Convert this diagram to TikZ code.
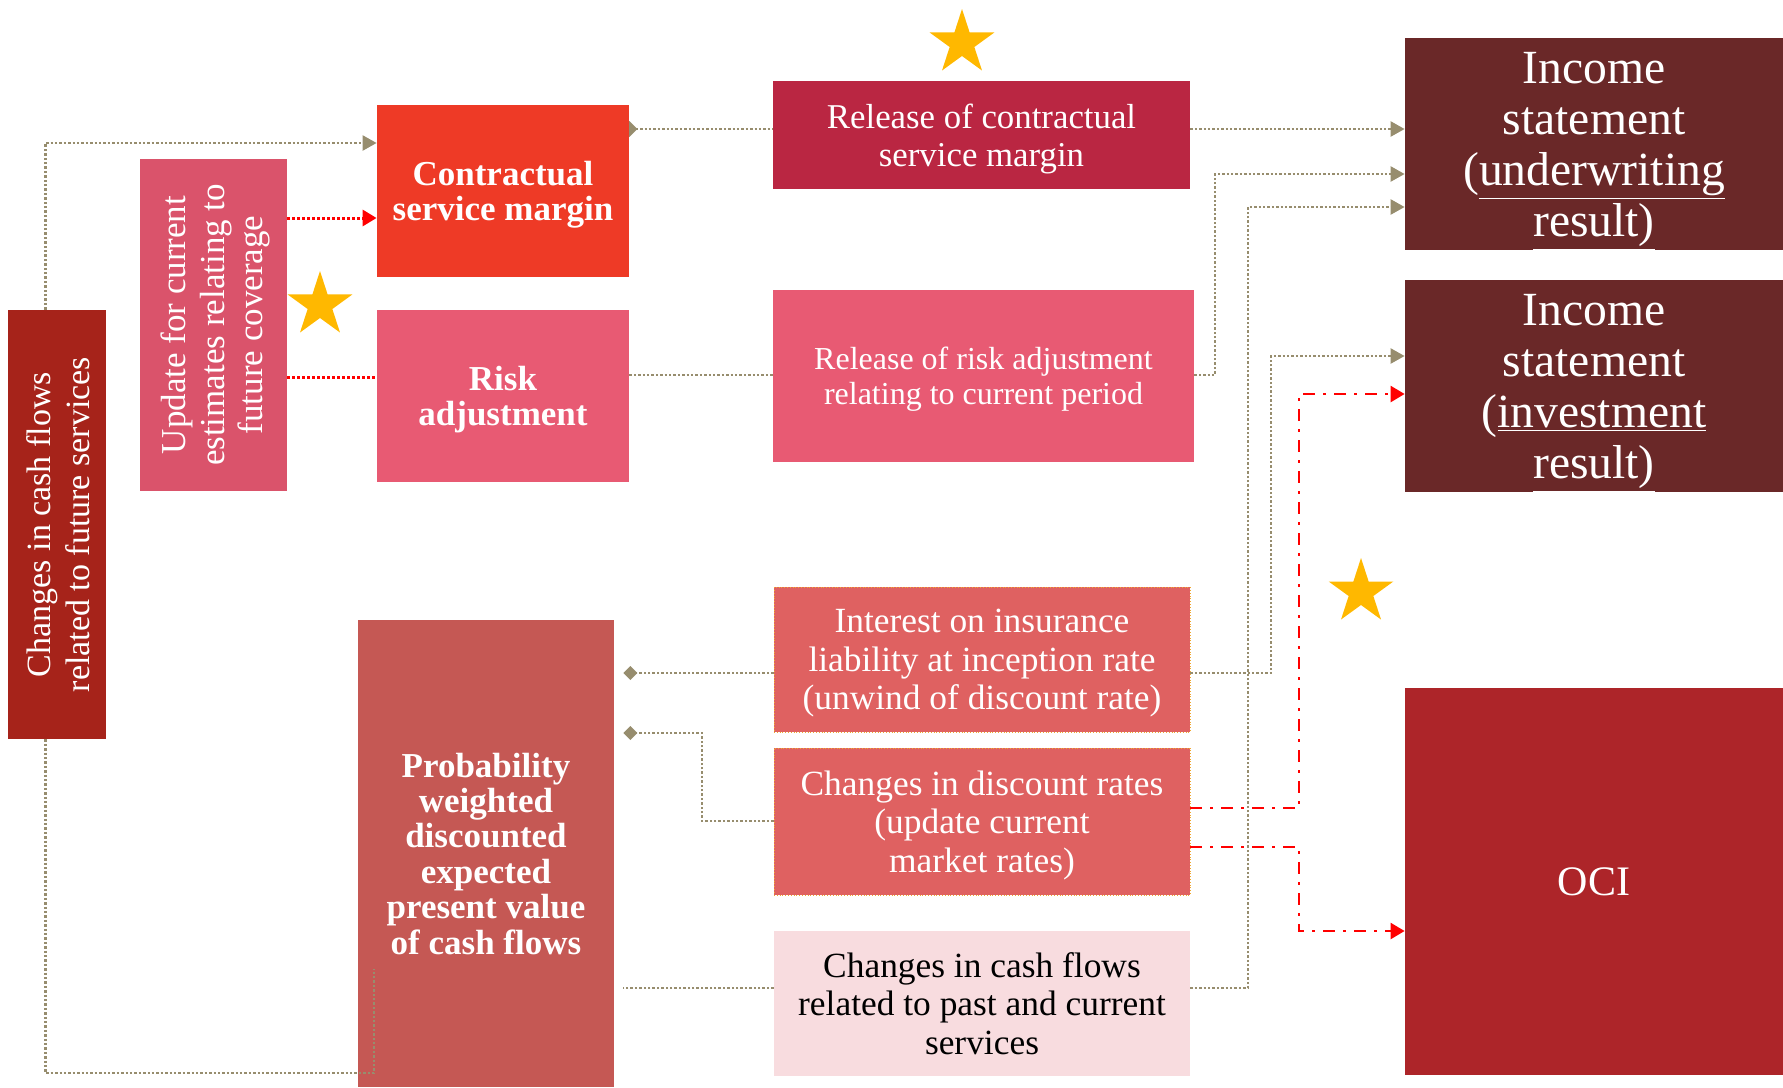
\documentclass[tikz,border=0pt]{standalone}
\usepackage{fontspec}
\setmainfont{Liberation Serif}
\usepackage{graphicx}
\usetikzlibrary{arrows.meta,shapes.geometric,backgrounds}
\definecolor{futred}{HTML}{A6231A}
\definecolor{updpink}{HTML}{DA536B}
\definecolor{csmred}{HTML}{EE3A26}
\definecolor{rapink}{HTML}{E85A73}
\definecolor{relred}{HTML}{BA2642}
\definecolor{isbrown}{HTML}{6A2828}
\definecolor{ocired}{HTML}{AD2529}
\definecolor{pvred}{HTML}{C55854}
\definecolor{intred}{HTML}{DF6161}
\definecolor{pastpink}{HTML}{F8DCDF}
\definecolor{linegray}{HTML}{978D6E}
\definecolor{stargold}{HTML}{FFB800}
\definecolor{edgeorange}{HTML}{F0A830}
\def\vtext#1{\rotatebox{90}{\begin{tabular}{@{}c@{}}#1\end{tabular}}}
\tikzset{
  box/.style={rectangle, inner sep=2pt, text=white, align=center, text depth=0pt},
  boldbox/.style={box, font=\bfseries\fontsize{17.5}{17.7}\selectfont},
  flowbox/.style={box, minimum width=208pt, font=\fontsize{17.7}{19.3}\selectfont},
  isbox/.style={box, fill=isbrown, minimum width=189pt, minimum height=106pt, font=\fontsize{23.8}{25.5}\selectfont},
  gline/.style={draw=linegray, line width=1.2pt, dash pattern=on 1.2pt off 1pt},
  rdot/.style={draw=red, line width=1.5pt, dash pattern=on 1.5pt off 1pt},
  rdash/.style={draw=red, line width=1.2pt, dash pattern=on 6pt off 4pt on 1.5pt off 4pt},
  gtip/.style={-{Triangle[length=7pt,width=7.5pt,fill=linegray]}},
  rtip/.style={-{Triangle[length=7pt,width=8pt,fill=red]}},
  dtip/.style={-{Diamond[length=7pt,width=7pt,fill=linegray]}, shorten >=4.5pt},
  goldstar/.style={star, star points=5, star point ratio=2.618, fill=stargold, minimum size=34pt, inner sep=0pt}
}

\begin{document}
\begin{tikzpicture}[x=0.5pt,y=-0.5pt]
	%%%%% START %%%%%
	\useasboundingbox (0,0) rectangle (1783,1087);
	
	\node[box, fill=futred, minimum width=49pt, minimum height=214.5pt, font=\fontsize{17}{19.3}\selectfont] (fut) at (57,524.5) {\hspace*{5pt}\vtext{Changes in cash flows\\related to future services}};
	\node[box, fill=updpink, minimum width=73.5pt, minimum height=166pt, font=\fontsize{17.5}{19.2}\selectfont] (upd) at (213.5,325) {\hspace*{3pt}\vtext{Update for current\\estimates relating to\\future coverage}};
	
	\node[boldbox, fill=csmred, minimum width=126pt, minimum height=86pt] (csm) at (503,191) {Contractual\\service margin};
	\node[boldbox, fill=rapink, minimum width=126pt, minimum height=86pt] (ra) at (503,396) {Risk\\adjustment};
	\node[boldbox, fill=pvred, minimum width=128pt, minimum height=233.5pt] (pv) at (486,853.5) {Probability\\weighted\\discounted\\expected\\present value\\of cash flows};
	
	\node[box, fill=relred, minimum width=208.5pt, minimum height=54pt, font=\fontsize{17.4}{19}\selectfont] (relcsm) at (981.5,135) {Release of contractual\\service margin};
	\node[box, fill=rapink, minimum width=210.5pt, minimum height=86pt, font=\fontsize{16}{17.6}\selectfont] (relra) at (983.5,376) {Release of risk adjustment\\relating to current period};
	\node[flowbox, fill=intred, draw=edgeorange, line width=0.4pt, densely dotted, minimum height=72.5pt] (intr) at (982,659.5) {Interest on insurance\\liability at inception rate\\(unwind of discount rate)};
	\node[flowbox, fill=intred, draw=edgeorange, line width=0.4pt, densely dotted, minimum height=73.5pt] (disc) at (982,821.5) {Changes in discount rates\\(update current\\market rates)};
	\node[flowbox, fill=pastpink, text=black, minimum height=72.5pt] (past) at (982,1003.5) {Changes in cash flows\\related to past and current\\services};
	
	\node[isbox] (isuw) at (1594,144) {Income\\statement\\(\underline{underwriting}\\\underline{result)}};
	\node[isbox] (isinv) at (1594,386) {Income\\statement\\(\underline{investment}\\\underline{result)}};
	\node[box, fill=ocired, minimum width=189pt, minimum height=193.5pt, font=\fontsize{21}{25.5}\selectfont] (oci) at (1594,881.5) {OCI};
	
	\node[goldstar] (star1) at (962,43) {};
	\node[goldstar] (star2) at (320,305) {};
	\node[goldstar] (star3) at (1361,592) {};
	
	% links
	\draw[gline, gtip] ([xshift=-5.75pt]fut.north) |- (csm.west |- 0,143);
	\draw[gline] ([xshift=-5.75pt]fut.south) |- (374,1073) -- (374,969);
	\draw[rdot, rtip] (upd.east |- 0,218) -- (csm.west |- 0,218);
	\draw[rdot] (upd.east |- 0,377) -- (ra.west |- 0,377);
	\begin{pgfonlayer}{background}
		\draw[gline, {Diamond[length=8pt,width=8pt,fill=linegray]}-, shorten <=-4pt] (csm.east |- 0,129) -- (relcsm.west |- 0,129);
	\end{pgfonlayer}
	\draw[gline, gtip] (relcsm.east |- 0,129) -- (isuw.west |- 0,129);
	\draw[gline] (ra.east |- 0,375) -- (relra.west |- 0,375);
	\draw[gline, gtip] (relra.east |- 0,375) -| (1215,174) -- (isuw.west |- 0,174);
	\draw[gline, gtip] (past.east |- 0,988) -| (1248,207) -- (isuw.west |- 0,207);
	\draw[gline, gtip] (intr.east |- 0,673) -| (1271,356) -- (isinv.west |- 0,356);
	\draw[gline, dtip] (intr.west |- 0,673) -- (pv.east |- 0,673);
	\draw[gline, dtip] (disc.west |- 0,821) -| (702,733) -- (pv.east |- 0,733);
	\draw[gline, shorten >=4.5pt] (past.west |- 0,988) -- (pv.east |- 0,988);
	\draw[rdash, rtip] (disc.east |- 0,808) -| (1299,394) -- (isinv.west |- 0,394);
	\draw[rdash, rtip] (disc.east |- 0,847) -| (1299,931) -- (oci.west |- 0,931);
	
	%%%%% END %%%%%
\end{tikzpicture}
\end{document}
